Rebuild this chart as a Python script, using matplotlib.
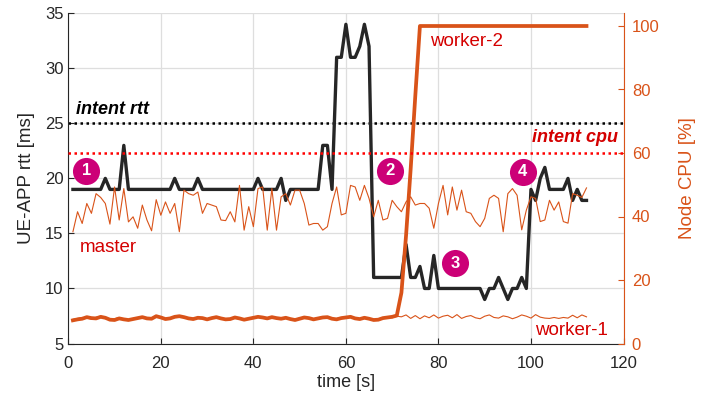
import numpy as np
import matplotlib
matplotlib.use("Agg")
import matplotlib.pyplot as plt

plt.rcParams['font.family'] = ['Liberation Sans', 'DejaVu Sans']

#%% data
t = np.arange(1, 113)

rtt = [19, 19, 19, 19, 19, 19, 19, 20, 19, 19, 19, 23, 19, 19, 19, 19, 19, 19, 19, 19,
       19, 19, 20, 19, 19, 19, 19, 20, 19, 19, 19, 19, 19, 19, 19, 19, 19, 19, 19, 19,
       20, 19, 19, 19, 19, 20, 18, 19, 19, 19, 19, 19, 19, 19, 23, 23, 19, 31, 31, 34,
       31, 31, 32, 34, 32, 11, 11, 11, 11, 11, 11, 11, 14, 11, 11, 12, 10, 10, 13, 10,
       10, 10, 10, 10, 10, 10, 10, 10, 10, 9, 10, 10, 11, 10, 9, 10, 10, 11, 10, 19,
       18, 20, 21, 19, 19, 19, 19, 20, 18, 19, 18, 18]

master = [35.2, 41.5, 37.8, 44.1, 41.0, 47.2, 46.0, 44.1, 37.6, 49.3, 38.9, 48.8, 38.3, 39.9, 36.3,
          43.6, 38.9, 35.5, 45.3, 40.4, 44.6, 41.0, 44.1, 35.2, 48.3, 47.2, 46.7, 47.7, 41.0, 44.1,
          43.6, 43.1, 38.9, 38.7, 41.5, 38.3, 49.8, 35.7, 43.1, 36.8, 48.8, 49.3, 35.7, 48.8, 35.7,
          46.2, 47.2, 43.6, 48.3, 48.3, 44.1, 37.3, 37.8, 37.8, 35.7, 36.8, 44.1, 49.3, 40.5, 41.0,
          49.8, 49.3, 45.1, 49.8, 45.7, 39.9, 45.1, 38.9, 39.4, 45.1, 43.1, 41.5, 44.6, 46.2, 43.6,
          44.1, 44.1, 42.6, 36.3, 44.1, 49.8, 40.5, 49.3, 42.0, 48.3, 41.5, 41.0, 38.4, 36.8, 39.4,
          45.7, 46.7, 45.7, 35.2, 47.2, 48.8, 46.7, 35.8, 42.0, 46.2, 45.7, 38.4, 38.9, 45.1, 42.0,
          44.6, 38.4, 37.9, 47.2, 46.7, 46.0, 49.0]

worker1 = [7.6, 7.9, 8.2, 8.0, 7.7, 8.3, 8.5, 7.9, 7.6, 7.8, 8.2, 7.7, 7.5, 7.9, 8.1, 8.4, 8.0, 7.7, 8.3, 8.5,
           7.8, 8.0, 8.2, 8.7, 8.1, 7.8, 7.9, 8.3, 7.8, 7.7, 8.2, 8.4, 7.8, 7.6, 7.9, 8.3, 8.0, 7.6, 7.9, 8.3,
           8.5, 8.0, 8.1, 8.4, 7.9, 7.7, 8.2, 7.8, 7.6, 8.0, 8.3, 7.9, 7.7, 8.1, 8.4, 8.1, 7.7, 7.9, 8.2, 8.0,
           8.5, 8.0, 7.8, 8.2, 7.9, 7.6, 7.8, 8.1, 8.3, 8.1, 8.6, 8.4, 9.0, 7.9, 8.8, 7.8, 8.7, 8.1, 9.0, 8.0,
           8.6, 8.9, 8.1, 9.1, 7.9, 8.5, 8.8, 8.1, 7.8, 8.6, 9.0, 8.2, 8.0, 8.7, 8.4, 7.8, 8.3, 9.0, 8.6, 8.0,
           9.1, 8.3, 8.0, 7.9, 8.2, 7.9, 8.2, 8.0, 8.9, 8.1, 9.0, 8.4]

worker2 = [7.3, 7.6, 7.8, 8.3, 8.0, 7.9, 8.4, 8.1, 7.5, 7.4, 7.9, 7.6, 7.4, 7.7, 8.0, 8.3, 7.9, 7.8, 8.6, 8.2,
           7.7, 7.9, 8.4, 8.6, 8.3, 7.9, 7.7, 8.1, 8.0, 7.6, 8.0, 8.3, 7.9, 7.6, 7.7, 8.2, 7.9, 7.5, 7.8, 8.1,
           8.4, 8.2, 7.9, 8.3, 8.0, 7.8, 8.1, 7.7, 7.4, 7.8, 8.2, 8.0, 7.6, 7.9, 8.2, 8.3, 7.8, 7.6, 8.0, 8.2,
           8.4, 7.9, 7.7, 8.1, 7.8, 7.4, 7.5, 8.0, 8.2, 8.4, 8.8, 16, 34, 55, 78] + [100] * 37

intent_rtt = 25
intent_cpu = 60

# numbered event markers (time, rtt)
events = ['1', '2', '3', '4']
event_t = [3.9, 69.5, 83.6, 98.2]
event_rtt = [20.7, 20.7, 12.3, 20.6]

#%% colours
orange = '#D95319'
dark = '#262626'
red = '#D40000'
magenta = '#CC0077'

#%% plot
fig = plt.figure(figsize=(7.05, 4.0), dpi=100)
ax = fig.add_axes([68.3 / 705, 1 - 343.5 / 400, (623.5 - 68.3) / 705, (343.5 - 13.3) / 400])
ax2 = ax.twinx()

ax.set_xlim(0, 120)
ax.set_ylim(5, 35)
ax2.set_ylim(0, 104)
ax.set_xticks(np.arange(0, 121, 20))
ax.set_yticks(np.arange(5, 36, 5))
ax2.set_yticks(np.arange(0, 101, 20))
ax.grid(True, color='#DEDEDE', lw=0.9)
ax.set_axisbelow(True)

ax.plot(t, rtt, color=dark, lw=2.4, zorder=3)
ax.axhline(intent_rtt, color='k', lw=1.8, ls=(0, (1, 1.4)))

ax2.plot(t, master, color=orange, lw=0.8)
ax2.plot(t, worker1, color=orange, lw=0.8)
ax2.plot(t, worker2, color=orange, lw=2.7)
ax2.axhline(intent_cpu, color='#FF0000', lw=1.8, ls=(0, (1, 1.4)))

for lab, et, er in zip(events, event_t, event_rtt):
    ax2.plot(et, er, 'o', ms=19.5, color=magenta, mec='none', transform=ax.transData, zorder=5)
    ax2.text(et, er, lab, transform=ax.transData, color='white', fontsize=12, fontweight='bold',
             ha='center', va='center', zorder=6)

ax.text(1.7, 26.3, 'intent rtt', fontsize=13, fontweight='bold', fontstyle='italic',
        color='k', ha='left', va='center')
ax2.text(118.8, 64.8, 'intent cpu', fontsize=13, fontweight='bold', fontstyle='italic',
         color=red, ha='right', va='center')
ax2.text(2.4, 30.3, 'master', fontsize=13.5, color=red, ha='left', va='center')
ax2.text(78.2, 95.0, 'worker-2', fontsize=13.5, color=red, ha='left', va='center')
ax2.text(100.8, 4.2, 'worker-1', fontsize=13.5, color=red, ha='left', va='center')

ax.set_xlabel('time [s]', fontsize=13, color=dark, labelpad=2)
ax.set_ylabel('UE-APP rtt [ms]', fontsize=13.5, color=dark, labelpad=7)
ax2.set_ylabel('Node CPU [%]', fontsize=13.5, color=orange, labelpad=14)

for a in (ax, ax2):
    a.spines['top'].set_visible(False)
ax.spines['right'].set_visible(False)
ax.spines['left'].set_color(dark)
ax.spines['bottom'].set_color(dark)
ax2.spines['left'].set_visible(False)
ax2.spines['bottom'].set_visible(False)
ax2.spines['right'].set_color(orange)
ax.tick_params(direction='in', length=4, labelsize=12, colors=dark)
ax.tick_params(axis='x', pad=9)
ax2.tick_params(direction='in', length=4, labelsize=12, colors=orange, pad=6)

fig.savefig('out.png', dpi=100)
